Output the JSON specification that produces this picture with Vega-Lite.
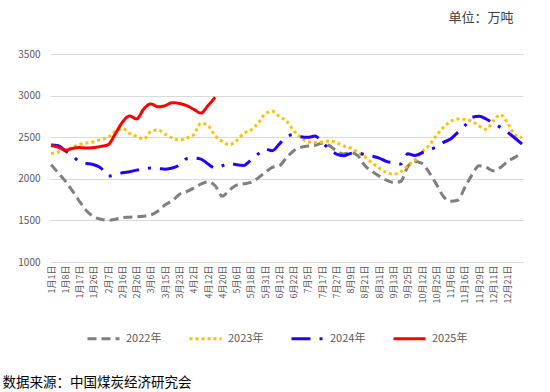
{
  "$schema": "https://vega.github.io/schema/vega-lite/v6.json",
  "width": 473,
  "height": 208,
  "autosize": {"type": "none"},
  "padding": {"left": 50, "top": 54, "right": 27, "bottom": 130},
  "background": "white",
  "config": {"view": {"stroke": null}, "font": "Noto Sans CJK SC"},
  "data": {"values": [
    {"d": "1月1日", "2022年": 2169, "2023年": 2305, "2024年": 2406, "2025年": 2400},
    {"d": "1月4日", "2022年": 2072, "2023年": 2321, "2024年": 2398, "2025年": 2380},
    {"d": "1月8日", "2022年": 1972, "2023年": 2345, "2024年": 2337, "2025年": 2345},
    {"d": "1月12日", "2022年": 1855, "2023年": 2377, "2024年": 2277, "2025年": 2365},
    {"d": "1月17日", "2022年": 1727, "2023年": 2414, "2024年": 2205, "2025年": 2375},
    {"d": "1月21日", "2022年": 1614, "2023年": 2430, "2024年": 2185, "2025年": 2370},
    {"d": "1月26日", "2022年": 1542, "2023年": 2446, "2024年": 2169, "2025年": 2375},
    {"d": "2月1日", "2022年": 1514, "2023年": 2474, "2024年": 2129, "2025年": 2390},
    {"d": "2月7日", "2022年": 1502, "2023年": 2498, "2024年": 2032, "2025年": 2410},
    {"d": "2月11日", "2022年": 1514, "2023年": 2570, "2024年": 2048, "2025年": 2540},
    {"d": "2月16日", "2022年": 1534, "2023年": 2606, "2024年": 2072, "2025年": 2680},
    {"d": "2月21日", "2022年": 1538, "2023年": 2546, "2024年": 2084, "2025年": 2755},
    {"d": "2月26日", "2022年": 1542, "2023年": 2510, "2024年": 2104, "2025年": 2720},
    {"d": "3月1日", "2022年": 1550, "2023年": 2478, "2024年": 2120, "2025年": 2840},
    {"d": "3月6日", "2022年": 1566, "2023年": 2570, "2024年": 2129, "2025年": 2900},
    {"d": "3月10日", "2022年": 1614, "2023年": 2586, "2024年": 2124, "2025年": 2865},
    {"d": "3月15日", "2022年": 1687, "2023年": 2535, "2024年": 2116, "2025年": 2880},
    {"d": "3月19日", "2022年": 1735, "2023年": 2490, "2024年": 2129, "2025年": 2915},
    {"d": "3月23日", "2022年": 1815, "2023年": 2466, "2024年": 2165, "2025年": 2905},
    {"d": "3月28日", "2022年": 1847, "2023年": 2490, "2024年": 2241, "2025年": 2880},
    {"d": "4月2日", "2022年": 1888, "2023年": 2530, "2024年": 2249, "2025年": 2835},
    {"d": "4月7日", "2022年": 1936, "2023年": 2667, "2024年": 2237, "2025年": 2790},
    {"d": "4月12日", "2022年": 1964, "2023年": 2639, "2024年": 2177, "2025年": 2880},
    {"d": "4月16日", "2022年": 1916, "2023年": 2518, "2024年": 2129, "2025年": 2980},
    {"d": "4月20日", "2022年": 1791, "2023年": 2450, "2024年": 2157, "2025年": null},
    {"d": "4月28日", "2022年": 1863, "2023年": 2410, "2024年": 2185, "2025年": null},
    {"d": "5月6日", "2022年": 1924, "2023年": 2458, "2024年": 2169, "2025年": null},
    {"d": "5月12日", "2022年": 1940, "2023年": 2546, "2024年": 2161, "2025年": null},
    {"d": "5月18日", "2022年": 1956, "2023年": 2586, "2024年": 2225, "2025年": null},
    {"d": "5月25日", "2022年": 2008, "2023年": 2667, "2024年": 2297, "2025年": null},
    {"d": "5月31日", "2022年": 2076, "2023年": 2779, "2024年": 2357, "2025年": null},
    {"d": "6月6日", "2022年": 2137, "2023年": 2811, "2024年": 2337, "2025年": null},
    {"d": "6月12日", "2022年": 2157, "2023年": 2747, "2024年": 2418, "2025年": null},
    {"d": "6月17日", "2022年": 2253, "2023年": 2695, "2024年": 2506, "2025年": null},
    {"d": "6月22日", "2022年": 2337, "2023年": 2578, "2024年": 2530, "2025年": null},
    {"d": "6月28日", "2022年": 2378, "2023年": 2498, "2024年": 2506, "2025年": null},
    {"d": "7月5日", "2022年": 2394, "2023年": 2446, "2024年": 2498, "2025年": null},
    {"d": "7月11日", "2022年": 2402, "2023年": 2434, "2024年": 2514, "2025年": null},
    {"d": "7月17日", "2022年": 2426, "2023年": 2442, "2024年": 2438, "2025年": null},
    {"d": "7月22日", "2022年": 2398, "2023年": 2454, "2024年": 2357, "2025年": null},
    {"d": "7月27日", "2022年": 2337, "2023年": 2434, "2024年": 2297, "2025年": null},
    {"d": "8月3日", "2022年": 2297, "2023年": 2394, "2024年": 2277, "2025年": null},
    {"d": "8月9日", "2022年": 2317, "2023年": 2370, "2024年": 2305, "2025年": null},
    {"d": "8月15日", "2022年": 2277, "2023年": 2317, "2024年": 2309, "2025年": null},
    {"d": "8月21日", "2022年": 2157, "2023年": 2265, "2024年": 2289, "2025年": null},
    {"d": "8月26日", "2022年": 2088, "2023年": 2189, "2024年": 2273, "2025年": null},
    {"d": "8月31日", "2022年": 2032, "2023年": 2129, "2024年": 2249, "2025年": null},
    {"d": "9月6日", "2022年": 1984, "2023年": 2076, "2024年": 2209, "2025年": null},
    {"d": "9月13日", "2022年": 1956, "2023年": 2056, "2024年": 2193, "2025年": null},
    {"d": "9月19日", "2022年": 1968, "2023年": 2084, "2024年": 2177, "2025年": null},
    {"d": "9月25日", "2022年": 2147, "2023年": 2160, "2024年": 2300, "2025年": null},
    {"d": "10月5日", "2022年": 2209, "2023年": 2225, "2024年": 2281, "2025年": null},
    {"d": "10月12日", "2022年": 2185, "2023年": 2325, "2024年": 2313, "2025年": null},
    {"d": "10月18日", "2022年": 2076, "2023年": 2402, "2024年": 2349, "2025年": null},
    {"d": "10月25日", "2022年": 1936, "2023年": 2518, "2024年": 2382, "2025年": null},
    {"d": "10月31日", "2022年": 1787, "2023年": 2618, "2024年": 2438, "2025年": null},
    {"d": "11月6日", "2022年": 1731, "2023年": 2691, "2024年": 2478, "2025年": null},
    {"d": "11月11日", "2022年": 1743, "2023年": 2719, "2024年": 2558, "2025年": null},
    {"d": "11月16日", "2022年": 1896, "2023年": 2715, "2024年": 2639, "2025年": null},
    {"d": "11月22日", "2022年": 2048, "2023年": 2691, "2024年": 2739, "2025年": null},
    {"d": "11月29日", "2022年": 2157, "2023年": 2635, "2024年": 2751, "2025年": null},
    {"d": "12月5日", "2022年": 2137, "2023年": 2594, "2024年": 2719, "2025年": null},
    {"d": "12月11日", "2022年": 2096, "2023年": 2699, "2024年": 2667, "2025年": null},
    {"d": "12月16日", "2022年": 2137, "2023年": 2771, "2024年": 2618, "2025年": null},
    {"d": "12月21日", "2022年": 2209, "2023年": 2667, "2024年": 2558, "2025年": null},
    {"d": "12月26日", "2022年": 2257, "2023年": 2530, "2024年": 2490, "2025年": null},
    {"d": "12月31日", "2022年": 2309, "2023年": 2498, "2024年": 2418, "2025年": null}
  ]},
  "transform": [{"fold": ["2022年", "2023年", "2024年", "2025年"], "as": ["series", "value"]}],
  "mark": {"type": "line", "strokeWidth": 3, "interpolate": "monotone"},
  "encoding": {
    "x": {
      "field": "d", "type": "ordinal", "sort": null,
      "scale": {"type": "point", "padding": 0.15},
      "axis": {
        "values": ["1月1日","1月8日","1月17日","1月26日","2月7日","2月16日","2月26日","3月6日","3月15日","3月23日","4月2日","4月12日","4月20日","5月6日","5月18日","5月31日","6月12日","6月22日","7月5日","7月17日","7月27日","8月9日","8月21日","8月31日","9月13日","9月25日","10月12日","10月25日","11月6日","11月16日","11月29日","12月11日","12月21日"],
        "labelAngle": -90, "labelFontSize": 9, "labelColor": "#595959", "labelPadding": 3,
        "labelOverlap": false, "ticks": false, "domain": false, "grid": false,
        "title": "数据来源：中国煤炭经济研究会", "titleX": -48, "titleY": 120,
        "titleAlign": "left", "titleBaseline": "middle", "titleFontSize": 13.5,
        "titleFontWeight": "normal", "titleColor": "#000000"
      }
    },
    "y": {
      "field": "value", "type": "quantitative",
      "scale": {"domain": [1000, 3500], "nice": false, "zero": false},
      "axis": {
        "values": [1000, 1500, 2000, 2500, 3000, 3500], "format": "d",
        "grid": true, "gridColor": "#d9d9d9", "domain": false, "ticks": false,
        "labelFontSize": 10, "labelColor": "#595959", "labelPadding": 10,
        "title": "单位：万吨", "titleAngle": 0, "titleX": 463, "titleY": -37,
        "titleAlign": "right", "titleBaseline": "middle", "titleFontSize": 13,
        "titleFontWeight": "normal", "titleColor": "#404040"
      }
    },
    "color": {
      "field": "series", "type": "nominal",
      "scale": {"domain": ["2022年", "2023年", "2024年", "2025年"], "range": ["#7f7f7f", "#ffc000", "#2200ff", "#ff0000"]},
      "legend": {"orient": "none", "legendX": 36, "legendY": 267, "direction": "horizontal", "columns": 4, "title": null,
        "symbolType": "stroke", "symbolSize": 1024, "symbolStrokeWidth": 3, "labelFontSize": 11, "labelColor": "#595959",
        "columnPadding": 21, "labelOffset": 5}
    },
    "strokeDash": {
      "field": "series", "type": "nominal",
      "scale": {"domain": ["2022年", "2023年", "2024年", "2025年"], "range": [[9, 5], [3, 3], [19, 9, 3, 9], [1, 0]]},
      "legend": {"orient": "none", "legendX": 36, "legendY": 267, "direction": "horizontal", "columns": 4, "title": null,
        "symbolType": "stroke", "symbolSize": 1024, "symbolStrokeWidth": 3, "labelFontSize": 11, "labelColor": "#595959",
        "columnPadding": 21, "labelOffset": 5}
    }
  }
}
